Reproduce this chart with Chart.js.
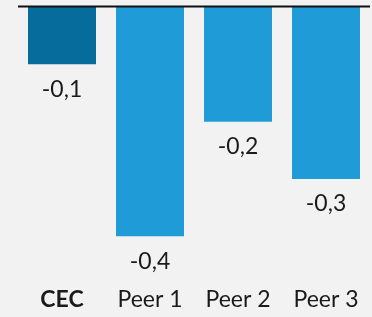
<!DOCTYPE html>
<html lang="en">
<head>
    <meta charset="UTF-8">
    <script src="https://cdn.jsdelivr.net/npm/chart.js"></script>
    <title>CEC vs Peers</title>
    <style>
        body { margin: 0; background: #f2f2f2; }
    </style>
</head>
<body>
    <canvas id="myChart" width="372" height="317"></canvas>

    <script>
        const categories = ['CEC', 'Peer 1', 'Peer 2', 'Peer 3'];
        const values = [-0.1, -0.4, -0.2, -0.3];
        const barColors = ['#066c9c', '#1f9bd8', '#1f9bd8', '#1f9bd8'];

        // value labels under each bar, comma decimal
        const valueLabels = {
            id: 'valueLabels',
            afterDatasetsDraw(chart) {
                const c = chart.ctx;
                const meta = chart.getDatasetMeta(0);
                c.save();
                c.font = '23px Lato';
                c.fillStyle = '#1a1a1a';
                c.textAlign = 'center';
                c.textBaseline = 'middle';
                meta.data.forEach((bar, i) => {
                    const txt = values[i].toFixed(1).replace('.', ',');
                    c.fillText(txt, bar.x, bar.y + 25);
                });
                // zero line across the top
                const y0 = chart.scales.y.getPixelForValue(0);
                c.strokeStyle = '#111';
                c.lineWidth = 2;
                c.beginPath();
                c.moveTo(chart.chartArea.left, y0 - 0.5);
                c.lineTo(chart.chartArea.right, y0 - 0.5);
                c.stroke();
                c.restore();
            }
        };

        const ctx = document.getElementById('myChart').getContext('2d');
        const myChart = new Chart(ctx, {
            type: 'bar',
            data: {
                labels: categories,
                datasets: [{
                    data: values,
                    backgroundColor: barColors,
                    barPercentage: 68 / 88,
                    categoryPercentage: 1
                }]
            },
            options: {
                responsive: false,
                animation: false,
                layout: { padding: { top: 7, left: 18, right: 2, bottom: 0 } },
                plugins: { legend: { display: false }, tooltip: { enabled: false } },
                scales: {
                    x: {
                        grid: { color: 'transparent', drawOnChartArea: false, drawTicks: true, tickLength: 45 },
                        border: { display: false },
                        ticks: {
                            padding: 4,
                            maxRotation: 0,
                            color: '#1a1a1a',
                            font: c => ({ family: 'Lato', size: 23, weight: c.index === 0 ? 'bold' : 'normal' })
                        }
                    },
                    y: {
                        display: false,
                        min: -0.4,
                        max: 0
                    }
                }
            },
            plugins: [valueLabels]
        });
    </script>
</body>
</html>
